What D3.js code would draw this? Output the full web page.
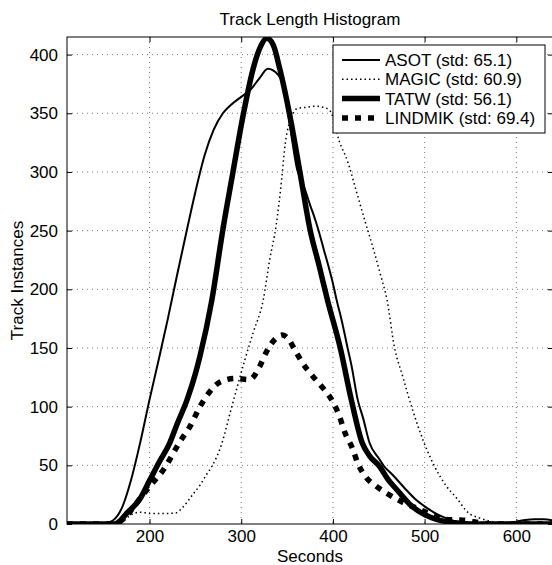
<!DOCTYPE html>
<html>
<head>
<meta charset="utf-8">
<script src="https://cdn.jsdelivr.net/npm/d3@7"></script>
<style>
  body { margin: 0; background: #fff; }
  svg { display: block; font-family: "Liberation Sans", Arial, sans-serif; }
</style>
</head>
<body>
<div id="chart"></div>
<script>
// smoothed histogram values (seconds -> track count)
var asotSec   = [110,130,150,160,170,180,190,200,210,220,230,240,250,260,270,280,290,300,310,320,329,340,345,350,355,361,365,370,375,380,384,390,395,400,404,410,416,420,427,433,440,450,456,465,480,490,500,510,520,530,540,550,570,590,600,610,620,630,640];
var asotCount = [0,0,0.5,3,14,38,70,106,140,175,212,248,283,314,336,350,358,364,370,380,388,383,376,356,330,302,294,284,272,261,251,234,220,205,191,172,150,136,106,90,69,56,49,42,29,21,15,10,6,3,1.5,0.5,0.5,1,2,3.5,4,4,3];

var magicSec   = [110,160,170,175,183,190,200,210,220,229,236,247,255,262,268,279,288,295,304,313,324,331,338,344,348,355,361,370,380,390,397,407,416,425,435,445,452,459,467,476,487,498,509,524,535,547,560,574,585,600,640];
var magicCount = [0,0,1,5,9,10,9,9,9,9.5,14,25,33,42,49,69,95,115,140,163,191,225,254,293,324,347,354,355,356,355,352,326,309,285,258,232,212,191,151,126,97,72,52,32,22,10,5,2,0.5,0,0];

var tatwSec   = [110,160,165,175,190,200,210,222,230,241,250,255,268,280,291,302,313,320,328,335,342,353,364,375,385,394,408,420,432,440,451,460,470,487,500,513,524,540,560,640];
var tatwCount = [0,0,1,9,22,37,52,69,85,106,128,143,191,251,300,348,388,405,414,408,388,348,300,251,220,191,150,106,69,58,49,38,29,14.5,8,4,2,0.5,0,0];

var lindSec   = [110,160,165,175,184,200,215,233,244,255,265,277,293,309,320,327,339,345,352,358,367,378,389,400,407,413,421,427,437,446,459,475,491,508,522,535,546,560,575,640];
var lindCount = [0,0,1,7,16,32,46,70,83,100,112,121,124,123,134,146,159,161,157,149,137,126,116,104,92,78,65,52,39,33,26,19,13.6,8,4,3.5,3,1,0,0];

var names = ["ASOT (std: 65.1)", "MAGIC (std: 60.9)", "TATW (std: 56.1)", "LINDMIK (std: 69.4)"];
var xTicks = [200, 300, 400, 500, 600];
var yTicks = [0, 50, 100, 150, 200, 250, 300, 350, 400];

var W = 552, H = 565;
var pL = 67, pR = 553, pT = 37, pB = 524;

var svg = d3.select("#chart").append("svg")
  .attr("width", W).attr("height", H);

var x = d3.scaleLinear().domain([110, 640]).range([pL, pR]);
var y = d3.scaleLinear().domain([0, 415]).range([pB, pT]);

// grid
svg.append("g").selectAll("line").data(xTicks).enter().append("line")
  .attr("x1", function(d){ return x(d); }).attr("x2", function(d){ return x(d); })
  .attr("y1", pT).attr("y2", pB)
  .attr("stroke", "#555").attr("stroke-width", 0.8).attr("stroke-dasharray", "1,4");
svg.append("g").selectAll("line").data(yTicks.slice(1)).enter().append("line")
  .attr("y1", function(d){ return y(d); }).attr("y2", function(d){ return y(d); })
  .attr("x1", pL).attr("x2", pR)
  .attr("stroke", "#555").attr("stroke-width", 0.8).attr("stroke-dasharray", "1,4");

// axes (inward ticks on all four sides)
svg.append("g").attr("transform", "translate(0," + pB + ")")
  .call(d3.axisBottom(x).tickValues(xTicks).tickSizeInner(-5).tickSizeOuter(0).tickPadding(6))
  .call(function(g){ g.select(".domain").remove(); });
svg.append("g").attr("transform", "translate(0," + pT + ")")
  .call(d3.axisTop(x).tickValues(xTicks).tickSizeInner(-5).tickSizeOuter(0).tickFormat(""))
  .call(function(g){ g.select(".domain").remove(); });
svg.append("g").attr("transform", "translate(" + pL + ",0)")
  .call(d3.axisLeft(y).tickValues(yTicks).tickSizeInner(-5).tickSizeOuter(0).tickPadding(9))
  .call(function(g){ g.select(".domain").remove(); });
svg.append("g").attr("transform", "translate(" + pR + ",0)")
  .call(d3.axisRight(y).tickValues(yTicks).tickSizeInner(-5).tickSizeOuter(0).tickFormat(""))
  .call(function(g){ g.select(".domain").remove(); });

svg.selectAll(".tick text")
  .attr("font-size", 17).attr("font-family", "Liberation Sans, Arial, sans-serif").attr("fill", "#000");
svg.selectAll(".tick line").attr("stroke", "#000");

svg.append("defs").append("clipPath").attr("id", "clip")
  .append("rect").attr("x", pL).attr("y", pT).attr("width", pR - pL).attr("height", pB - pT);

var line = d3.line()
  .x(function(d){ return x(d[0]); })
  .y(function(d){ return y(d[1]); })
  .curve(d3.curveMonotoneX);

var series = [
  { sec: asotSec,  cnt: asotCount,  w: 2,   dash: null },
  { sec: magicSec, cnt: magicCount, w: 1.5, dash: "1.5,3" },
  { sec: tatwSec,  cnt: tatwCount,  w: 5.5, dash: null },
  { sec: lindSec,  cnt: lindCount,  w: 5.5, dash: "6,7" }
];

var plot = svg.append("g").attr("clip-path", "url(#clip)");
series.forEach(function(s) {
  plot.append("path")
    .datum(d3.zip(s.sec, s.cnt))
    .attr("d", line)
    .attr("fill", "none")
    .attr("stroke", "#000")
    .attr("stroke-width", s.w)
    .attr("stroke-dasharray", s.dash);
});

// frame
svg.append("rect").attr("x", pL).attr("y", pT)
  .attr("width", pR - pL).attr("height", pB - pT)
  .attr("fill", "none").attr("stroke", "#000").attr("stroke-width", 1);

// legend
var lg = svg.append("g");
lg.append("rect").attr("x", 333).attr("y", 45).attr("width", 212).attr("height", 88)
  .attr("fill", "#fff").attr("stroke", "#000").attr("stroke-width", 1);
series.forEach(function(s, i) {
  var yy = 60 + i * 19.3;
  lg.append("line").attr("x1", 342).attr("x2", 380).attr("y1", yy).attr("y2", yy)
    .attr("stroke", "#000").attr("stroke-width", s.w).attr("stroke-dasharray", s.dash);
  lg.append("text").attr("x", 385).attr("y", yy + 6).attr("font-size", 17).text(names[i]);
});

// titles
svg.append("text").attr("x", (pL + pR) / 2).attr("y", 25)
  .attr("text-anchor", "middle").attr("font-size", 17).text("Track Length Histogram");
svg.append("text").attr("x", (pL + pR) / 2).attr("y", 562)
  .attr("text-anchor", "middle").attr("font-size", 17).text("Seconds");
svg.append("text").attr("transform", "translate(23," + ((pT + pB) / 2) + ") rotate(-90)")
  .attr("text-anchor", "middle").attr("font-size", 17).text("Track Instances");
</script>
</body>
</html>
